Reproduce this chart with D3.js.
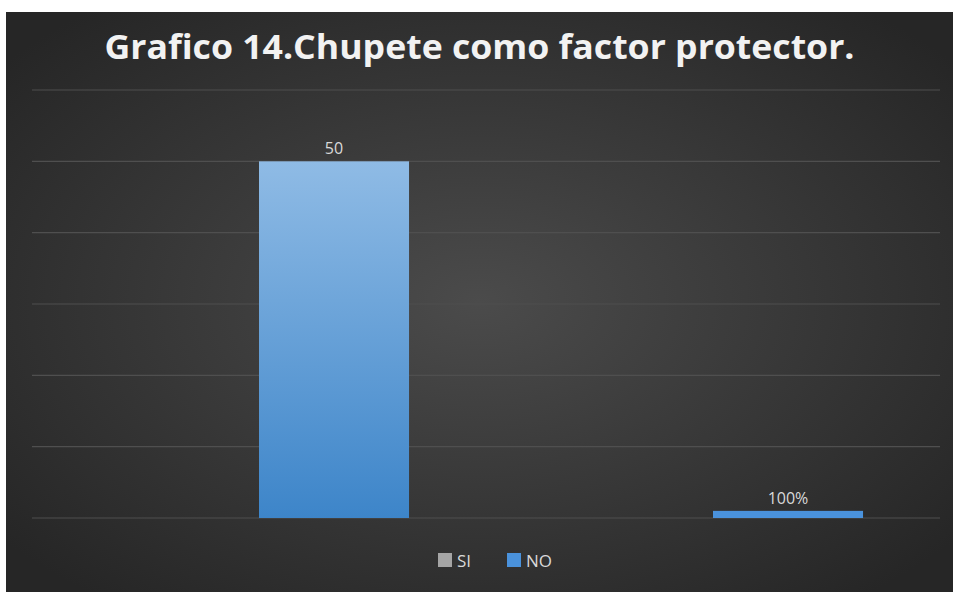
<!DOCTYPE html>
<html>
<head>
<meta charset="utf-8">
<script src="https://cdnjs.cloudflare.com/ajax/libs/d3/7.8.5/d3.min.js"></script>
<style>
  html, body { margin: 0; padding: 0; background: #ffffff; }
  svg { display: block; }
</style>
</head>
<body>
<div id="container"></div>
<script>
// ******* Data *******
var categories = ["1", "2"];
var series = ["SI", "NO"];
var si_values = [0, 0];
var no_values = [50, 1];
var bar_labels = ["50", "100%"];
var y_ticks = [0, 10, 20, 30, 40, 50, 60];
var title = "Grafico 14.Chupete como factor protector.";

var width = 953, height = 592;

var svg = d3.select("#container").append("svg")
  .attr("width", width)
  .attr("height", height);

var defs = svg.append("defs");
var bg = defs.append("radialGradient").attr("id", "bg")
  .attr("cx", "50%").attr("cy", "50%").attr("r", "65%");
bg.append("stop").attr("offset", "0%").attr("stop-color", "#4b4b4b");
bg.append("stop").attr("offset", "100%").attr("stop-color", "#262626");

var barGrad = defs.append("linearGradient").attr("id", "barGrad")
  .attr("x1", 0).attr("y1", 0).attr("x2", 0).attr("y2", 1);
barGrad.append("stop").attr("offset", "0%").attr("stop-color", "#8fbbe5");
barGrad.append("stop").attr("offset", "100%").attr("stop-color", "#3d85c9");

// chart area background
svg.append("rect")
  .attr("x", 6).attr("y", 12)
  .attr("width", width - 6).attr("height", height - 12)
  .attr("fill", "url(#bg)");

// ******* Scales *******
var plot = { left: 32, right: 940, top: 90, bottom: 518 };

var x = d3.scaleBand().domain(categories).range([plot.left, plot.right]);
var x1 = d3.scaleBand().domain(series).range([0, x.bandwidth()]).paddingInner(0).paddingOuter(0.513);
var y = d3.scaleLinear().domain([0, 60]).range([plot.bottom, plot.top]);

// gridlines
svg.append("g").selectAll("line")
  .data(y_ticks)
  .enter().append("line")
  .attr("x1", plot.left).attr("x2", plot.right)
  .attr("y1", function(d) { return y(d); })
  .attr("y2", function(d) { return y(d); })
  .attr("stroke", "#4f4f4f")
  .attr("stroke-width", 1.2);

// bars
var rows = categories.map(function(c, i) {
  return { cat: c, SI: si_values[i], NO: no_values[i], label: bar_labels[i] };
});

var groups = svg.append("g").selectAll("g")
  .data(rows)
  .enter().append("g")
  .attr("transform", function(d) { return "translate(" + x(d.cat) + ",0)"; });

groups.append("rect")
  .attr("x", x1("SI"))
  .attr("width", x1.bandwidth())
  .attr("y", function(d) { return y(d.SI); })
  .attr("height", function(d) { return y(0) - y(d.SI); })
  .attr("fill", "#a5a5a5");

groups.append("rect")
  .attr("x", x1("NO"))
  .attr("width", x1.bandwidth())
  .attr("y", function(d) { return y(d.NO); })
  .attr("height", function(d) { return y(0) - y(d.NO); })
  .attr("fill", function(d) { return d.NO > 5 ? "url(#barGrad)" : "#4a92dc"; });

groups.append("text")
  .attr("x", x1("NO") + x1.bandwidth() / 2)
  .attr("y", function(d) { return y(d.NO) - 7; })
  .attr("text-anchor", "middle")
  .attr("fill", "#d9d9d9")
  .style("font-family", "'Open Sans', sans-serif")
  .style("font-size", "16px")
  .text(function(d) { return d.label; });

// title
svg.append("text")
  .attr("x", width / 2 + 3)
  .attr("y", 59)
  .attr("text-anchor", "middle")
  .attr("fill", "#f2f2f2")
  .style("font-family", "'Open Sans', sans-serif")
  .style("font-weight", "bold")
  .style("font-size", "34px")
  .attr("textLength", 750)
  .attr("lengthAdjust", "spacingAndGlyphs")
  .text(title);

// legend
var legendColors = { SI: "#a5a5a5", NO: "#4a92dc" };
var legendX = [438, 507];
var legend = svg.append("g").selectAll("g")
  .data(series)
  .enter().append("g")
  .attr("transform", function(d, i) { return "translate(" + legendX[i] + ",553)"; });

legend.append("rect")
  .attr("width", 14).attr("height", 14)
  .attr("fill", function(d) { return legendColors[d]; });

legend.append("text")
  .attr("x", 19).attr("y", 14)
  .attr("fill", "#d9d9d9")
  .style("font-family", "'Open Sans', sans-serif")
  .style("font-size", "17px")
  .text(function(d) { return d; });
</script>
</body>
</html>
